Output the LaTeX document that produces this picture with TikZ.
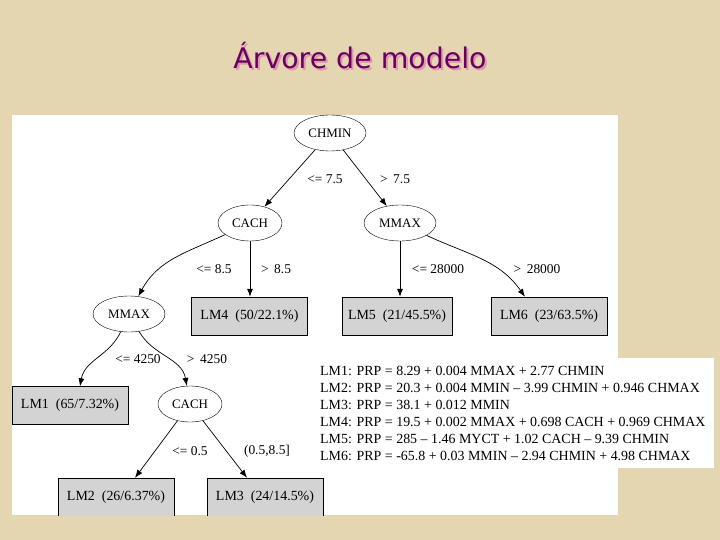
\documentclass[tikz,border=0pt]{standalone}
\usepackage{fontspec}
\setmainfont{Liberation Serif}
\newfontfamily\titlefont{DejaVu Sans}
\usetikzlibrary{shapes.geometric,arrows.meta}
\definecolor{parch}{RGB}{229,214,178}
\definecolor{boxgray}{RGB}{211,211,211}
\definecolor{titlepurple}{RGB}{105,0,95}
\definecolor{titleshadow}{RGB}{225,150,175}
\newcommand{\shadowtext}[1]{\rlap{\kern2bp\raisebox{-2bp}{\textcolor{titleshadow}{#1}}}\textcolor{titlepurple}{#1}}
\tikzset{
  split/.style={draw, ellipse, minimum width=72bp, minimum height=36bp, inner sep=0pt, font=\fontsize{13}{15}\selectfont},
  leaf/.style={draw, rectangle, fill=boxgray, minimum width=116bp, minimum height=38bp, inner sep=0pt, font=\fontsize{14}{16}\selectfont},
  edge/.style={-{Latex[length=8bp,width=6bp]}, line width=0.7bp},
  elab/.style={font=\fontsize{13.5}{15}\selectfont, inner sep=0pt},
  eq/.style={font=\fontsize{14}{16}\selectfont, inner sep=0pt, anchor=west}
}
\begin{document}
\begin{tikzpicture}[x=1bp,y=-1bp]
\fill[parch] (0,0) rectangle (720,540);
\useasboundingbox (0,0) rectangle (720,540);
% title
\node[font=\titlefont\fontsize{28.5}{32}\selectfont] (title) at (360,57) {\shadowtext{Árvore de modelo}};
% panel
\fill[white] (12,115) rectangle (618,515);
\begin{scope}
\clip (12,115) rectangle (618,515);
\node[split] (chmin) at (330,133) {CHMIN};
\node[split, minimum width=64bp] (cach1) at (250,223) {CACH};
\node[split] (mmax1) at (400,223) {MMAX};
\node[leaf] (lm4) at (249.5,316) {LM4\enspace(50/22.1\%)};
\node[leaf, minimum width=110bp] (lm5) at (397,316) {LM5\enspace(21/45.5\%)};
\node[leaf] (lm6) at (549,316) {LM6\enspace(23/63.5\%)};
\node[split] (mmax2) at (129,314) {MMAX};
\node[leaf, minimum width=116bp] (lm1) at (70,405.5) {LM1\enspace(65/7.32\%)};
\node[split, minimum width=64bp] (cach2) at (190,404) {CACH};
\node[leaf, minimum height=44bp, text depth=9bp] (lm2) at (116,500) {LM2\enspace(26/6.37\%)};
\node[leaf, minimum height=44bp, text depth=9bp] (lm3) at (265,500) {LM3\enspace(24/14.5\%)};
\end{scope}
% edges
\draw[edge] (chmin) -- (cach1);
\draw[edge] (chmin) -- (mmax1);
\draw[edge] (cach1) to[out=205,in=62] (mmax2);
\draw[edge] (cach1.south) -- (lm4.north -| cach1.south);
\draw[edge] (mmax1.south) -- (lm5.north -| mmax1.south);
\draw[edge] (mmax1) to[out=-25,in=125] (lm6.north west -| 525,0);
\draw[edge] (mmax2) to[out=-115,in=80] (lm1.north -| 80,0);
\draw[edge] (mmax2) to[out=-60,in=100] (cach2);
\draw[edge] (cach2) -- (lm2.north -| 135,0);
\draw[edge] (cach2) -- (lm3.north -| 247,0);
% edge labels
\node[elab] (l1) at (325,179) {<= 7.5};
\node[elab] (l2) at (395,179) {> \,7.5};
\node[elab] (l3) at (214,269) {<= 8.5};
\node[elab] (l4) at (276,269) {> \,8.5};
\node[elab] (l5) at (438,269) {<= 28000};
\node[elab] (l6) at (537,269) {> \,28000};
\node[elab] (l7) at (138,359) {<= 4250};
\node[elab] (l8) at (207,359) {> \,4250};
\node[elab] (l9) at (190,451) {<= 0.5};
\node[elab] (l10) at (267,451) {(0.5,8.5]};
% equations panel
\fill[white] (318,358) rectangle (714,468);
\node[eq] (e1) at (320,371) {LM1: PRP = 8.29 + 0.004 MMAX + 2.77 CHMIN};
\node[eq] (e2) at (320,388) {LM2: PRP = 20.3 + 0.004 MMIN – 3.99 CHMIN + 0.946 CHMAX};
\node[eq] (e3) at (320,405) {LM3: PRP = 38.1 + 0.012 MMIN};
\node[eq] (e4) at (320,422) {LM4: PRP = 19.5 + 0.002 MMAX + 0.698 CACH + 0.969 CHMAX};
\node[eq] (e5) at (320,439) {LM5: PRP = 285 – 1.46 MYCT + 1.02 CACH – 9.39 CHMIN};
\node[eq] (e6) at (320,456) {LM6: PRP = -65.8 + 0.03 MMIN – 2.94 CHMIN + 4.98 CHMAX};
\end{tikzpicture}
\end{document}
